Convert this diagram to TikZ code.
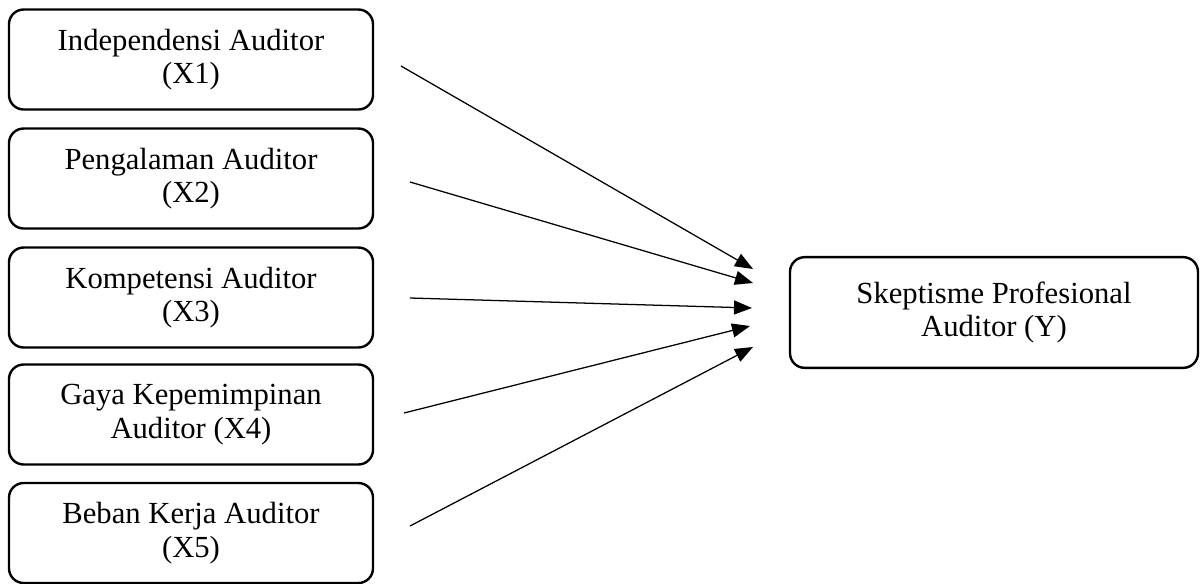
\documentclass[tikz,border=0pt]{standalone}
\usepackage{fontspec}
\setmainfont{Liberation Serif}
\usetikzlibrary{arrows.meta}
\begin{document}
\begin{tikzpicture}[x=0.75pt,y=-0.75pt,
  box/.style={draw,line width=1.8pt,rounded corners=11pt,align=center,
    font=\fontsize{23}{25}\selectfont,inner sep=0pt},
  xbox/.style={box,minimum width=273pt,minimum height=75pt},
  link/.style={line width=0.95pt,-{Triangle[length=13.5pt,width=10.5pt]}}]
\useasboundingbox (0,0) rectangle (1200,583);
\node[xbox] (x1) at (191,59.5) {Independensi Auditor\\(X1)};
\node[xbox] (x2) at (191,178.5) {Pengalaman Auditor\\(X2)};
\node[xbox] (x3) at (191,297.5) {Kompetensi Auditor\\(X3)};
\node[xbox] (x4) at (191,414.5) {Gaya Kepemimpinan\\Auditor (X4)};
\node[xbox] (x5) at (191,533) {Beban Kerja Auditor\\(X5)};
\node[box,minimum width=306pt,minimum height=83pt] (y) at (994,312.5) {Skeptisme Profesional\\Auditor (Y)};
\coordinate (s1) at (401,66);  \coordinate (e1) at (753,269);
\coordinate (s2) at (410,182); \coordinate (e2) at (753,283);
\coordinate (s3) at (410,298); \coordinate (e3) at (752,308);
\coordinate (s4) at (404,413); \coordinate (e4) at (750,326);
\coordinate (s5) at (410,526); \coordinate (e5) at (753,347);
\foreach \i in {1,...,5} \draw[link] (s\i) -- (e\i);
\end{tikzpicture}
\end{document}
